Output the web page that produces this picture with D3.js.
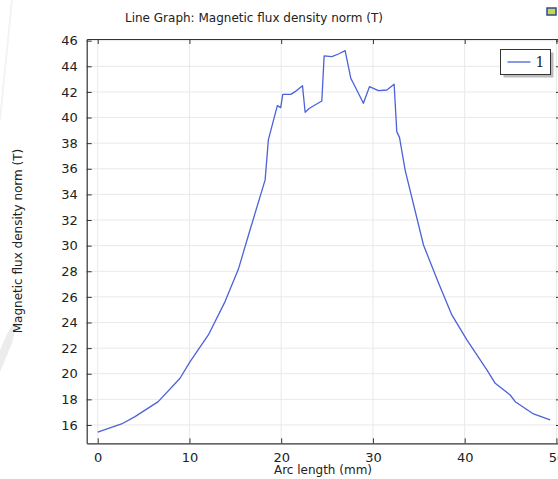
<!DOCTYPE html>
<html>
<head>
<meta charset="utf-8">
<script src="https://cdn.jsdelivr.net/npm/d3@7"></script>
<style>
	html, body { margin: 0; padding: 0; background: #fff; overflow: hidden; }
	svg { display: block; font-family: "DejaVu Sans", sans-serif; }
</style>
</head>
<body>
<svg id="chart" width="558" height="479"></svg>
<script>
// data
var arcLength = [0, 2.6, 4.07, 6.6, 8.97, 10.07, 12.06, 13.88, 15.33, 16.6, 18.25, 18.6,
	19.58, 19.95, 20.17, 21.05, 21.52, 22.32, 22.61, 23.08, 24.43, 24.68, 25.52, 26.24,
	26.97, 27.59, 27.87, 28.96, 29.62, 30.6, 31.52, 32.31, 32.6, 32.9, 33.51, 35.51,
	37.14, 38.6, 40.24, 42.42, 43.33, 44.96, 45.51, 47.5, 49.32];
var fluxNorm = [15.45, 16.08, 16.65, 17.82, 19.65, 20.94, 23.03, 25.63, 28.15, 31.22, 35.13, 38.25,
	40.93, 40.77, 41.81, 41.81, 42.02, 42.49, 40.41, 40.72, 41.29, 44.81, 44.75, 44.96,
	45.22, 43.06, 42.67, 41.11, 42.41, 42.1, 42.15, 42.6, 38.9, 38.43, 35.9, 30.05,
	27.1, 24.59, 22.64, 20.3, 19.25, 18.34, 17.82, 16.86, 16.39];
var xTicks = [0, 10, 20, 30, 40, 50];
var yTicks = [16, 18, 20, 22, 24, 26, 28, 30, 32, 34, 36, 38, 40, 42, 44, 46];
var seriesNames = ['1'];

var svg, x, y, line, pLeft, pRight, pTop, pBottom, lg;

svg = d3.select('#chart');

// plot frame (right edge sits just off the picture)
pLeft = 86.7;
pRight = 561;
pTop = 39;
pBottom = 443.3;

x = d3.scaleLinear().domain([-1.2, 50.5]).range([pLeft, pRight]);
y = d3.scaleLinear().domain([14.57, 46.13]).range([pBottom, pTop]);

// faint watermark bits on the left
svg.append('path')
	.attr('d', 'M0,372 L12,343 L20,312 L7,334 L0,350 Z')
	.attr('fill', '#ececec');
svg.append('path')
	.attr('d', 'M12,0 Q6,60 0,120')
	.attr('fill', 'none')
	.attr('stroke', '#f3f3f3')
	.attr('stroke-width', 2);

// title
svg.append('text')
	.attr('x', 254)
	.attr('y', 22)
	.attr('text-anchor', 'middle')
	.attr('font-size', 12)
	.attr('fill', '#222')
	.text('Line Graph: Magnetic flux density norm (T)');

// little toolbar icon, top right
svg.append('rect')
	.attr('x', 547).attr('y', 8)
	.attr('width', 9).attr('height', 7)
	.attr('fill', '#c8d84a')
	.attr('stroke', '#2b4a9a')
	.attr('stroke-width', 1.5);

// grid
svg.append('g').selectAll('line').data(yTicks).enter().append('line')
	.attr('x1', pLeft).attr('x2', pRight)
	.attr('y1', function(d){ return y(d); })
	.attr('y2', function(d){ return y(d); })
	.attr('stroke', '#e9e9e9');
svg.append('g').selectAll('line').data(xTicks).enter().append('line')
	.attr('y1', pTop).attr('y2', pBottom)
	.attr('x1', function(d){ return x(d); })
	.attr('x2', function(d){ return x(d); })
	.attr('stroke', '#e9e9e9');

// axes (ticks pointing inward)
svg.append('g')
	.attr('transform', 'translate(0,' + pBottom + ')')
	.call(d3.axisBottom(x).tickValues(xTicks).tickSizeInner(-5).tickSizeOuter(0).tickPadding(9))
	.call(styleAxis);
svg.append('g')
	.attr('transform', 'translate(0,' + pTop + ')')
	.call(d3.axisTop(x).tickValues(xTicks).tickSizeInner(-5).tickSizeOuter(0).tickFormat(''))
	.call(styleAxis);
svg.append('g')
	.attr('transform', 'translate(' + pLeft + ',0)')
	.call(d3.axisLeft(y).tickValues(yTicks).tickSizeInner(-5).tickSizeOuter(0).tickPadding(9))
	.call(styleAxis);
svg.append('g')
	.attr('transform', 'translate(' + pRight + ',0)')
	.call(d3.axisRight(y).tickValues(yTicks).tickSizeInner(-5).tickSizeOuter(0).tickFormat(''))
	.call(styleAxis);

function styleAxis(g) {
	g.select('.domain').attr('stroke', '#333').attr('stroke-width', 1.2);
	g.selectAll('.tick line').attr('stroke', '#333');
	g.selectAll('.tick text')
		.attr('font-size', 13)
		.attr('font-family', '"DejaVu Sans", sans-serif')
		.attr('fill', '#222');
}

// the curve
line = d3.line()
	.x(function(d, i){ return x(arcLength[i]); })
	.y(function(d){ return y(d); });

svg.append('path')
	.datum(fluxNorm)
	.attr('d', line)
	.attr('fill', 'none')
	.attr('stroke', '#4b62d8')
	.attr('stroke-width', 1.3)
	.attr('stroke-linejoin', 'round');

// axis titles
svg.append('text')
	.attr('x', 323)
	.attr('y', 474)
	.attr('text-anchor', 'middle')
	.attr('font-size', 12)
	.attr('fill', '#222')
	.text('Arc length (mm)');
svg.append('text')
	.attr('transform', 'translate(22,241) rotate(-90)')
	.attr('text-anchor', 'middle')
	.attr('font-size', 12)
	.attr('fill', '#222')
	.text('Magnetic flux density norm (T)');

// legend
lg = svg.append('g').attr('transform', 'translate(500.5,49.5)');
lg.append('rect')
	.attr('x', 3).attr('y', 3)
	.attr('width', 50).attr('height', 25)
	.attr('fill', '#bbb');
lg.append('rect')
	.attr('width', 50).attr('height', 25)
	.attr('fill', '#fff')
	.attr('stroke', '#333');
seriesNames.forEach(function(d){
	lg.append('line')
		.attr('x1', 7).attr('x2', 30)
		.attr('y1', 12.5).attr('y2', 12.5)
		.attr('stroke', '#4b62d8')
		.attr('stroke-width', 1.3);
	lg.append('text')
		.attr('x', 35).attr('y', 17.5)
		.attr('font-size', 14)
		.attr('font-family', '"DejaVu Serif", serif')
		.attr('fill', '#222')
		.text(d);
});
</script>
</body>
</html>
